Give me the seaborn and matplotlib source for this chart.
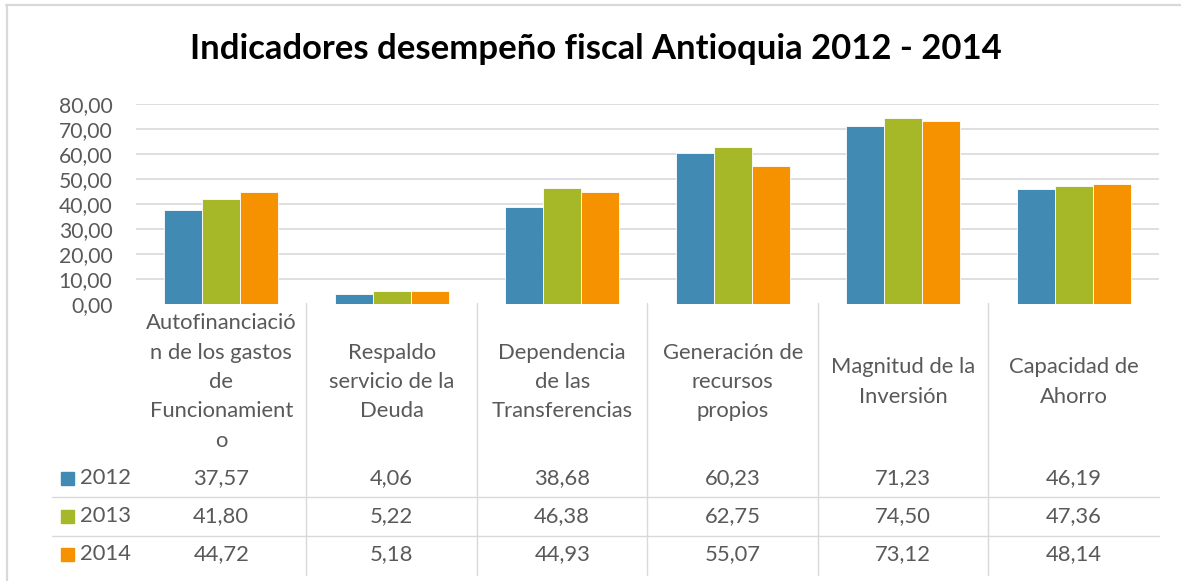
import matplotlib
matplotlib.use("Agg")
import matplotlib.pyplot as plt
import matplotlib.transforms as mtransforms
from matplotlib.ticker import FuncFormatter
import seaborn as sns
import pandas as pd

# ---------------- data ----------------
categories = ["Autofinanciación de los gastos de Funcionamiento",
              "Respaldo servicio de la Deuda",
              "Dependencia de las Transferencias",
              "Generación de recursos propios",
              "Magnitud de la Inversión",
              "Capacidad de Ahorro"]
category_labels = ["Autofinanciació\nn de los gastos\nde\nFuncionamient\no",
                   "Respaldo\nservicio de la\nDeuda",
                   "Dependencia\nde las\nTransferencias",
                   "Generación de\nrecursos\npropios",
                   "Magnitud de la\nInversión",
                   "Capacidad de\nAhorro"]
years = ["2012", "2013", "2014"]
v2012 = [37.57, 4.06, 38.68, 60.23, 71.23, 46.19]
v2013 = [41.80, 5.22, 46.38, 62.75, 74.50, 47.36]
v2014 = [44.72, 5.18, 44.93, 55.07, 73.12, 48.14]
yticks = [0, 10, 20, 30, 40, 50, 60, 70, 80]
title = "Indicadores desempeño fiscal Antioquia 2012 - 2014"

colors = ["#418AB3", "#A6B727", "#F69200"]
series = {"2012": v2012, "2013": v2013, "2014": v2014}
rows = []
for y in years:
    for c, v in zip(categories, series[y]):
        rows.append({"cat": c, "year": y, "value": v})
df = pd.DataFrame(rows)

def fmt(v):
    return f"{v:.2f}".replace(".", ",")

# ---------------- figure ----------------
sns.set_theme(style="white")
plt.rcParams["font.family"] = ["Lato", "DejaVu Sans"]
W, H = 1181, 581
fig = plt.figure(figsize=(W / 100, H / 100), dpi=100)
fig.patch.set_facecolor("white")

def fy(py):
    return 1 - py / H

def fx(px):
    return px / W

ax_l, ax_r, ax_t, ax_b = 136, 1159, 104, 304
ax = fig.add_axes([fx(ax_l), fy(ax_b), fx(ax_r) - fx(ax_l), fy(ax_t) - fy(ax_b)])

sns.barplot(data=df, x="cat", y="value", hue="year", order=categories,
            hue_order=years, palette=colors, width=0.67, saturation=1,
            edgecolor="white", linewidth=0.6, legend=False, ax=ax, zorder=3)

ax.set_xlim(-0.5, len(categories) - 0.5)
ax.set_ylim(0, 80)
ax.set_yticks(yticks)
ax.yaxis.set_major_formatter(FuncFormatter(lambda v, p: fmt(v)))
ax.tick_params(axis="y", length=0, pad=17, labelsize=15.2, labelcolor="#595959")
ax.set_xticks([])
ax.set_xlabel("")
ax.set_ylabel("")
for s in ax.spines.values():
    s.set_visible(False)
ax.yaxis.grid(True, color="#D9D9D9", linewidth=1.2, zorder=0)
ax.set_axisbelow(True)
ax.get_ygridlines()[0].set_visible(False)

# title
fig.text(0.5047, fy(49), title, ha="center", va="center", fontsize=24.9,
         fontweight="bold", color="black")

# outer border (left and top)
grey = "#D9D9D9"
fig.add_artist(plt.Line2D([fx(6.5), fx(6.5)], [fy(5), 0], color=grey, lw=1.6,
                          transform=fig.transFigure))
fig.add_artist(plt.Line2D([fx(6), 1], [fy(5), fy(5)], color=grey, lw=1.6,
                          transform=fig.transFigure))

# ---------------- data table ----------------
trans = mtransforms.blended_transform_factory(ax.transData, fig.transFigure)
text_col = "#595959"
tab_fs = 15.8

# vertical separators between categories
for i in range(len(categories) - 1):
    ax.plot([i + 0.5, i + 0.5], [fy(303), fy(575)], color=grey, lw=1,
            transform=trans, clip_on=False)
# horizontal row separators
for py in (497, 536):
    fig.add_artist(plt.Line2D([fx(52), fx(ax_r)], [fy(py), fy(py)], color=grey,
                              lw=1, transform=fig.transFigure))

# category labels
for i, lab in enumerate(category_labels):
    ax.text(i, fy(382), lab, transform=trans, ha="center", va="center",
            fontsize=tab_fs, color=text_col, linespacing=1.58, multialignment="center")

# rows
row_y = [478, 516, 554]
for r, y in enumerate(years):
    fig.add_artist(plt.Rectangle((fx(61), fy(row_y[r] + 6.5)), fx(13), 13 / H,
                                 color=colors[r], transform=fig.transFigure))
    fig.text(fx(80), fy(row_y[r]), y, ha="left", va="center", fontsize=tab_fs,
             color=text_col)
    for i, v in enumerate(series[y]):
        ax.text(i, fy(row_y[r]), fmt(v), transform=trans, ha="center",
                va="center", fontsize=tab_fs, color=text_col)

fig.savefig("out.png", dpi=100, facecolor="white")
